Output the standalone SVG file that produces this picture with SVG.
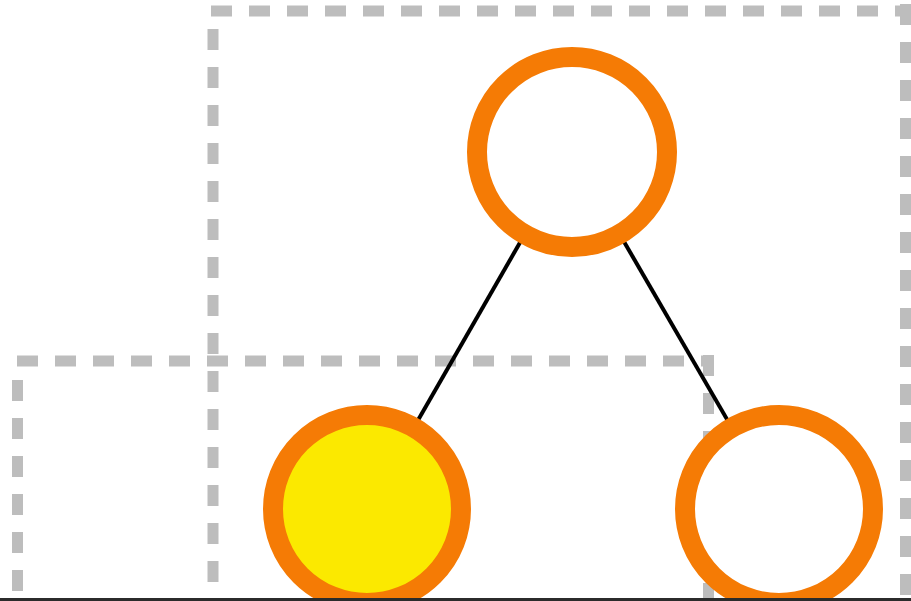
<svg xmlns="http://www.w3.org/2000/svg" width="911" height="601" viewBox="0 0 911 601">
  <style>
    .grp { stroke: #bdbdbd; stroke-width: 11; stroke-dasharray: 21 17; fill: none; }
    .edge { stroke: #000000; stroke-width: 4; fill: none; }
    .node { stroke: #f57b05; stroke-width: 20; }
    .empty { fill: #ffffff; }
    .filled { fill: #fbe900; }
  </style>
  <rect x="0" y="0" width="911" height="601" fill="#ffffff"/>
  <g id="group-top">
    <line class="grp" x1="211" y1="11" x2="911" y2="11"/>
    <line class="grp" x1="213" y1="29" x2="213" y2="601"/>
    <line class="grp" x1="905.5" y1="4" x2="905.5" y2="601"/>
  </g>
  <g id="group-bottom">
    <line class="grp" x1="17" y1="361" x2="714" y2="361"/>
    <line class="grp" x1="17.5" y1="380" x2="17.5" y2="601"/>
    <line class="grp" x1="708.5" y1="355" x2="708.5" y2="601"/>
  </g>
  <g id="connectors">
    <line class="edge" x1="572" y1="152" x2="367" y2="509"/>
    <line class="edge" x1="572" y1="152" x2="779" y2="509"/>
  </g>
  <g id="node-top">
    <circle class="node empty" cx="572" cy="152" r="95"/>
  </g>
  <g id="node-left">
    <circle class="node filled" cx="367" cy="509" r="94"/>
  </g>
  <g id="node-right">
    <circle class="node empty" cx="779" cy="509" r="94"/>
  </g>
  <rect x="0" y="598" width="911" height="3" fill="#2b2b2b"/>
</svg>
